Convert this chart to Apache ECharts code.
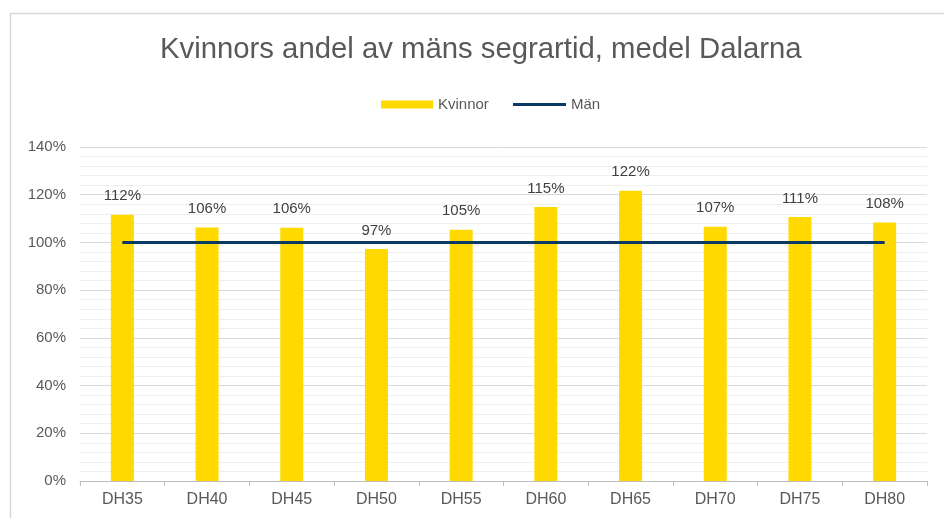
<!DOCTYPE html>
<html>
<head>
<meta charset="utf-8">
<script src="https://cdn.jsdelivr.net/npm/echarts@6/dist/echarts.min.js"></script>
<style>html,body{margin:0;padding:0;background:#fff;}#c{width:944px;height:518px;}</style>
</head>
<body>
<div id="c"></div>
<script>
const categories = ['DH35','DH40','DH45','DH50','DH55','DH60','DH65','DH70','DH75','DH80'];
const kvinnor = [111.6, 106.3, 106.2, 97.2, 105.3, 114.8, 121.7, 106.6, 110.7, 108.4];
const man = [100, 100, 100, 100, 100, 100, 100, 100, 100, 100];
const yTicks = { min: 0, max: 140, interval: 20 };

const chart = echarts.init(document.getElementById('c'));
const font = 'Liberation Sans, Arial, sans-serif';
const legendText = { fontFamily: font, fontSize: 15, color: '#595959' };
chart.setOption({
  animation: false,
  backgroundColor: '#fff',
  graphic: [{
    type: 'rect', left: 8, top: 11, silent: true,
    shape: { width: 960, height: 540 },
    style: { fill: 'none', stroke: '#d9d9d9', lineWidth: 1.5 }
  }],
  title: {
    text: 'Kvinnors andel av mäns segrartid, medel Dalarna',
    left: 155, top: 30,
    textStyle: { fontFamily: font, fontSize: 29.3, fontWeight: 'normal', color: '#595959' }
  },
  legend: [{
    top: 92, left: 376,
    itemWidth: 52, itemHeight: 8,
    textStyle: legendText,
    data: [{ name: 'Kvinnor', icon: 'rect' }]
  }, {
    top: 92, left: 508,
    itemWidth: 53, itemHeight: 3,
    textStyle: legendText,
    data: [{ name: 'Män', icon: 'rect' }]
  }],
  grid: { left: 80, right: 17, top: 147, bottom: 37, containLabel: false },
  xAxis: {
    type: 'category', data: categories,
    axisLine: { lineStyle: { color: '#bfbfbf', width: 1 } },
    axisTick: { show: true, length: 5, lineStyle: { color: '#bfbfbf' } },
    axisLabel: { fontFamily: font, fontSize: 16, color: '#595959', margin: 11 }
  },
  yAxis: {
    type: 'value', min: yTicks.min, max: yTicks.max, interval: yTicks.interval,
    axisLine: { show: false }, axisTick: { show: false },
    axisLabel: { fontFamily: font, fontSize: 15, color: '#595959', margin: 14, formatter: v => v + '%' },
    splitLine: { lineStyle: { color: '#d9d9d9', width: 1 } },
    minorTick: { show: false, splitNumber: 5 },
    minorSplitLine: { show: true, lineStyle: { color: '#efefef', width: 1 } }
  },
  series: [{
    name: 'Kvinnor', type: 'bar', data: kvinnor, barWidth: 23,
    itemStyle: { color: '#ffd900' },
    label: {
      show: true, position: 'top', distance: 11,
      fontFamily: font, fontSize: 15, color: '#404040',
      formatter: p => Math.round(p.value) + '%'
    }
  }, {
    name: 'Män', type: 'line', data: man, symbol: 'none',
    lineStyle: { color: '#0c3a64', width: 3 },
    itemStyle: { color: '#0c3a64' }
  }]
});
</script>
</body>
</html>
